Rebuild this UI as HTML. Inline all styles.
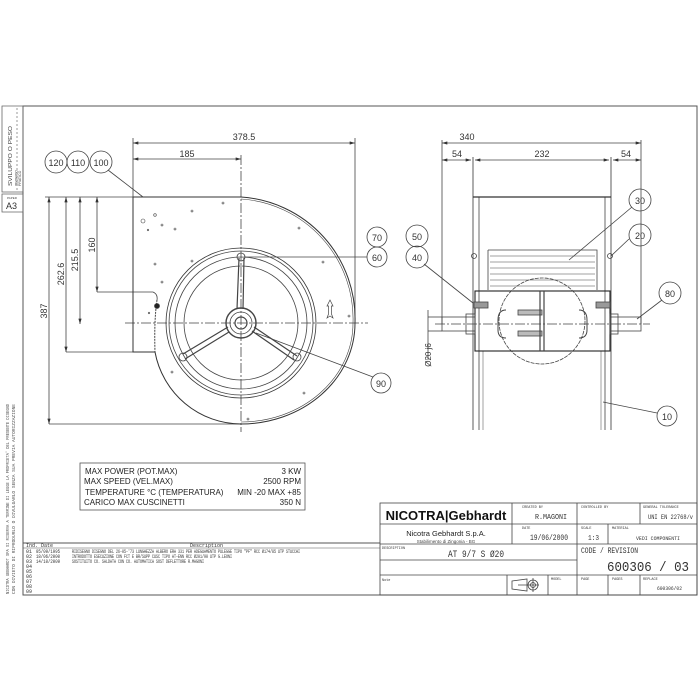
<!DOCTYPE html>
<html><head><meta charset="utf-8"><style>
html,body{margin:0;padding:0;background:#fff;}
svg{display:block;font-family:"Liberation Sans",sans-serif;}
.m{font-family:"Liberation Mono",monospace;}
</style></head><body>
<svg width="700" height="700" viewBox="0 0 700 700" xmlns="http://www.w3.org/2000/svg">
<defs>
<marker id="a" viewBox="0 0 10 6" refX="10" refY="3" markerWidth="7" markerHeight="4" orient="auto-start-reverse"><path d="M0,0L10,3L0,6z" fill="#333"/></marker>
</defs>
<rect width="700" height="700" fill="#fff"/>
<g fill="none" stroke="#555" stroke-width="1">
<path d="M23,106H697V595H23Z"/>
<path d="M2,106H23V192H2Z M2,194H23V212H2Z" stroke="#666" stroke-width="0.8"/>
<line x1="17" y1="108" x2="17" y2="190" stroke-dasharray="2,2" stroke-width="0.6"/>
<line x1="23" y1="543" x2="380" y2="543"/>
<line x1="23" y1="548" x2="380" y2="548" stroke-width="0.6"/>
</g>
<text transform="translate(12,186) rotate(-90)" font-size="5.5" fill="#444" textLength="60" lengthAdjust="spacingAndGlyphs">SVILUPPO O PESO</text>
<text transform="translate(17.5,186) rotate(-90)" font-size="3.5" fill="#444">TEORICO</text>
<text transform="translate(21,186) rotate(-90)" font-size="3.5" fill="#444">PRATICO</text>
<text x="7" y="199" font-size="3" fill="#444">PAPER</text>
<text x="6" y="209" font-size="9" fill="#333">A3</text>
<text transform="translate(9,594) rotate(-90)" font-size="4.5" fill="#555" class="m" textLength="190" lengthAdjust="spacingAndGlyphs">NICOTRA GEBHARDT SPA SI RISERVA A TERMINE DI LEGGE LA PROPRIETA' DEL PRESENTE DISEGNO</text>
<text transform="translate(15,594) rotate(-90)" font-size="4.5" fill="#555" class="m" textLength="190" lengthAdjust="spacingAndGlyphs">CON DIVIETO DI RIPRODURLO O DIVULGARLO SENZA SUA PREVIA AUTORIZZAZIONE</text>
<g font-size="5" fill="#333" class="m">
<text x="26" y="547">Ind. Date</text><text x="190" y="547">Description</text>
<text x="26" y="553">01</text><text x="36" y="553" textLength="24" lengthAdjust="spacingAndGlyphs">05/09/1995</text><text x="72" y="553" textLength="228" lengthAdjust="spacingAndGlyphs">RIDISEGNO DISEGNO DEL 26-05-'73 LUNGHEZZA ALBERO ERA 331 PER ADEGUAMENTO PULEGGE TIPO "PF" RCC Ø174/85 UTP STUCCHI</text>
<text x="26" y="558">02</text><text x="36" y="558" textLength="24" lengthAdjust="spacingAndGlyphs">18/06/2000</text><text x="72" y="558" textLength="160" lengthAdjust="spacingAndGlyphs">INTRODOTTO ESECUZIONE CON FCT E BR/SUPP CUSC TIPO AT-ENN RCC Ø201/90 UTP G.LEONI</text>
<text x="26" y="563">03</text><text x="36" y="563" textLength="24" lengthAdjust="spacingAndGlyphs">14/10/2009</text><text x="72" y="563" textLength="132" lengthAdjust="spacingAndGlyphs">SOSTITUITO CO. SALDATA CON CO. AUTOMATICA SOST DEFLETTORE R.MAGONI</text>
<text x="26" y="568">04</text><text x="26" y="573">05</text><text x="26" y="578">06</text><text x="26" y="583">07</text><text x="26" y="588">08</text><text x="26" y="593">09</text>
</g>

<!-- LEFT VIEW -->
<g fill="none" stroke="#444" stroke-width="0.8">
<line x1="133" y1="143" x2="355" y2="143" marker-start="url(#a)" marker-end="url(#a)"/>
<line x1="133" y1="159" x2="241" y2="159" marker-start="url(#a)" marker-end="url(#a)"/>
<line x1="133" y1="138" x2="133" y2="197"/>
<line x1="355" y1="138" x2="355" y2="323"/>
<line x1="241" y1="155" x2="241" y2="432" stroke-dasharray="10,2,2,2"/>
<line x1="125" y1="323" x2="368" y2="323" stroke-dasharray="10,2,2,2"/>
<line x1="45" y1="197" x2="133" y2="197"/>
<line x1="49" y1="197" x2="49" y2="424" marker-start="url(#a)" marker-end="url(#a)"/>
<line x1="49" y1="424" x2="241" y2="424"/>
<line x1="66" y1="197" x2="66" y2="352" marker-start="url(#a)" marker-end="url(#a)"/>
<line x1="66" y1="352" x2="133" y2="352"/>
<line x1="80" y1="197" x2="80" y2="324" marker-start="url(#a)" marker-end="url(#a)"/>
<line x1="97" y1="197" x2="97" y2="292" marker-start="url(#a)" marker-end="url(#a)"/>
<path d="M97,292H153q5,2 4,8"/>
<path d="M133,197H241 A122,122 0 0 1 355,323 A114,101 0 0 1 241,424 A88,88 0 0 1 155,352 H133 Z" stroke="#333" stroke-width="1"/>
<path d="M241,199 A120,120 0 0 1 353,323 A112,99 0 0 1 241,422" stroke-width="0.6"/>
<path d="M157,300 q-3,20 -2,52" stroke-width="1" stroke-dasharray="2,1"/>
<circle cx="157" cy="306" r="2.5" fill="#222"/>
<circle cx="241" cy="323" r="75" stroke="#333"/>
<circle cx="241" cy="323" r="72"/>
<circle cx="241" cy="323" r="66"/>
<circle cx="241" cy="323" r="57"/>
<circle cx="241" cy="323" r="15" stroke-width="1.4"/>
<circle cx="241" cy="323" r="11"/>
<circle cx="241" cy="323" r="6" stroke-width="1.2"/>
<path d="M239,258 L237,309 M244,258 L243,309" stroke-width="1.2"/>
<path d="M183,354 L228,327 M185,359 L229,332" stroke-width="1.2"/>
<path d="M297,356 L254,327 M294,360 L252,331" stroke-width="1.2"/>
<circle cx="241" cy="257" r="4"/><circle cx="183" cy="357" r="4"/><circle cx="297" cy="357" r="4"/>
<path d="M327,306 l3,-6 3,6 h-1.5 v8 l1.5,4 -3,-2 -3,2 1.5,-4 v-8z" stroke-width="0.7"/>
<g stroke-width="0.6">
<circle cx="143" cy="221" r="2"/><circle cx="155" cy="215" r="1.3"/><circle cx="162" cy="225" r="1"/><circle cx="175" cy="229" r="1"/>
<circle cx="192" cy="211" r="1"/><circle cx="223" cy="203" r="1"/><circle cx="299" cy="228" r="1"/><circle cx="323" cy="262" r="1"/>
<circle cx="155" cy="264" r="1"/><circle cx="162" cy="282" r="1"/><circle cx="149" cy="313" r="0.8"/><circle cx="172" cy="372" r="1"/>
<circle cx="304" cy="393" r="1"/><circle cx="349" cy="316" r="1"/><circle cx="192" cy="261" r="1"/>
<circle cx="148" cy="230" r="0.8"/><circle cx="248" cy="419" r="1"/>
</g>
<circle cx="56" cy="162" r="11"/><circle cx="78" cy="162" r="11"/><circle cx="101" cy="162" r="11"/>
<line x1="108" y1="170" x2="143" y2="197"/>
<circle cx="377" cy="237" r="10"/><circle cx="377" cy="257" r="10"/>
<line x1="367" y1="257" x2="244" y2="257"/>
<circle cx="381" cy="383" r="10"/>
<line x1="373" y1="377" x2="256" y2="333"/>
</g>
<g fill="#333" font-size="9" text-anchor="middle">
<text x="244" y="140">378.5</text>
<text x="187" y="157">185</text>
<text x="56" y="166">120</text><text x="78" y="166">110</text><text x="101" y="166">100</text>
<text x="377" y="241">70</text><text x="377" y="261">60</text><text x="381" y="387">90</text>
<text x="467" y="140">340</text><text x="542" y="157">232</text><text x="457" y="157">54</text><text x="626" y="157">54</text>
<text x="640" y="204">30</text><text x="640" y="239">20</text><text x="417" y="240">50</text><text x="417" y="261">40</text>
<text x="670" y="297">80</text><text x="667" y="420">10</text>
<text transform="translate(47,311) rotate(-90)">387</text>
<text transform="translate(64,274) rotate(-90)">262.6</text>
<text transform="translate(78,260) rotate(-90)">215.5</text>
<text transform="translate(95,245) rotate(-90)">160</text>
<text transform="translate(431,355) rotate(-90)" font-size="8">Ø20 j6</text>
</g>

<!-- RIGHT VIEW -->
<g fill="none" stroke="#444" stroke-width="0.8">
<line x1="442" y1="143" x2="641" y2="143" marker-start="url(#a)" marker-end="url(#a)"/>
<line x1="442" y1="160" x2="471" y2="160" marker-start="url(#a)" marker-end="url(#a)"/>
<line x1="475" y1="160" x2="609" y2="160" marker-start="url(#a)" marker-end="url(#a)"/>
<line x1="613" y1="160" x2="641" y2="160" marker-start="url(#a)" marker-end="url(#a)"/>
<line x1="442" y1="140" x2="442" y2="324"/>
<line x1="641" y1="140" x2="641" y2="324"/>
<line x1="473" y1="157" x2="473" y2="430" stroke="#333"/>
<line x1="611" y1="157" x2="611" y2="430" stroke="#333"/>
<line x1="479" y1="197" x2="479" y2="430"/>
<line x1="605" y1="197" x2="605" y2="430"/>
<line x1="483" y1="351" x2="483" y2="430" stroke-width="0.5"/>
<line x1="601" y1="351" x2="601" y2="430" stroke-width="0.5"/>
<line x1="473" y1="197" x2="611" y2="197" stroke="#333" stroke-width="1.2"/>
<path d="M488,250H597V290M488,250V290" />
<g stroke-width="0.5"><path d="M490,256H595M490,262H595M490,268H595M490,274H595M490,280H595M490,286H595"/></g>
<rect x="475" y="291" width="135" height="60" stroke="#222" stroke-width="1.1"/>
<circle cx="542" cy="321" r="43" stroke-dasharray="4,1"/>
<path d="M506,310 q-8,0 -8,10 v10 q0,8 8,8 M579,310 q8,0 8,10 v10 q0,8 -8,8" stroke-width="1"/>
<rect x="518" y="310" width="24" height="5" fill="#bbb"/><rect x="518" y="331" width="24" height="5" fill="#bbb"/>
<line x1="540" y1="291" x2="540" y2="351" stroke-width="1.2"/><line x1="544" y1="291" x2="544" y2="351" stroke-width="1.2"/>
<rect x="442" y="317" width="33" height="14"/><rect x="610" y="317" width="31" height="14"/>
<rect x="466" y="314" width="9" height="20"/><rect x="610" y="314" width="8" height="20"/>
<rect x="474" y="302" width="14" height="6" fill="#999"/><rect x="596" y="302" width="14" height="6" fill="#999"/>
<line x1="435" y1="324" x2="650" y2="324" stroke-dasharray="10,2,2,2"/>
<line x1="428" y1="317" x2="442" y2="317"/><line x1="428" y1="331" x2="442" y2="331"/>
<line x1="428" y1="310" x2="428" y2="360"/>
<circle cx="474" cy="256" r="2.5"/><circle cx="610" cy="256" r="2.5"/>
<circle cx="640" cy="200" r="11"/><circle cx="640" cy="235" r="11"/>
<circle cx="417" cy="236" r="11"/><circle cx="417" cy="257" r="11"/>
<circle cx="670" cy="293" r="11"/><circle cx="667" cy="416" r="10"/>
<line x1="632" y1="207" x2="569" y2="260"/>
<line x1="629" y1="239" x2="611" y2="256"/>
<line x1="424" y1="264" x2="473" y2="303"/>
<line x1="662" y1="300" x2="637" y2="319"/>
<line x1="657" y1="413" x2="603" y2="402"/>
</g>

<rect x="80" y="463" width="225" height="47" fill="none" stroke="#555" stroke-width="0.8"/>
<g font-size="8" fill="#222">
<text x="85" y="474">MAX POWER (POT.MAX)</text><text x="301" y="474" text-anchor="end">3 KW</text>
<text x="84" y="484">MAX SPEED (VEL.MAX)</text><text x="301" y="484" text-anchor="end">2500 RPM</text>
<text x="85" y="495">TEMPERATURE °C (TEMPERATURA)</text><text x="301" y="495" text-anchor="end">MIN -20 MAX +85</text>
<text x="84" y="505">CARICO MAX CUSCINETTI</text><text x="301" y="505" text-anchor="end">350 N</text>
</g>

<g fill="none" stroke="#444" stroke-width="0.8">
<rect x="380" y="503" width="317" height="92"/>
<line x1="380" y1="524" x2="697" y2="524"/>
<line x1="380" y1="544" x2="697" y2="544"/>
<line x1="380" y1="560" x2="577" y2="560"/>
<line x1="380" y1="575" x2="697" y2="575"/>
<line x1="512" y1="503" x2="512" y2="544"/>
<line x1="577" y1="503" x2="577" y2="595"/>
<line x1="640" y1="503" x2="640" y2="524"/>
<line x1="608" y1="524" x2="608" y2="544"/>
<line x1="507" y1="575" x2="507" y2="595"/><line x1="548" y1="575" x2="548" y2="595"/>
<line x1="608" y1="575" x2="608" y2="595"/><line x1="640" y1="575" x2="640" y2="595"/>
<path d="M512,581 L527,579 V591 L512,589Z M518,585 H539"/>
<circle cx="533" cy="585" r="5"/><circle cx="533" cy="585" r="2.5"/><line x1="533" y1="578" x2="533" y2="592"/>
</g>
<text x="446" y="520" font-size="13" font-weight="bold" fill="#111" text-anchor="middle">NICOTRA|Gebhardt</text>
<text x="446" y="536" font-size="7.5" fill="#222" text-anchor="middle">Nicotra Gebhardt S.p.A.</text>
<text x="446" y="543" font-size="4.5" fill="#444" text-anchor="middle">Stabilimento di Zingonia - BG</text>
<g class="m" fill="#333">
<text x="522" y="508" font-size="3.5">CREATED BY</text><text x="535" y="519" font-size="7" textLength="32" lengthAdjust="spacingAndGlyphs">R.MAGONI</text>
<text x="581" y="508" font-size="3.5">CONTROLLED BY</text>
<text x="643" y="508" font-size="3.5">GENERAL TOLERANCE</text><text x="648" y="519" font-size="6.5" textLength="45" lengthAdjust="spacingAndGlyphs">UNI EN 22768/v</text>
<text x="522" y="529" font-size="3.5">DATE</text><text x="530" y="540" font-size="8" textLength="38" lengthAdjust="spacingAndGlyphs">19/06/2000</text>
<text x="581" y="529" font-size="3.5">SCALE</text><text x="588" y="540" font-size="7" textLength="11" lengthAdjust="spacingAndGlyphs">1:3</text>
<text x="612" y="529" font-size="3.5">MATERIAL</text><text x="636" y="540" font-size="5.5" textLength="44" lengthAdjust="spacingAndGlyphs">VEDI COMPONENTI</text>
<text x="382" y="549" font-size="3.5">DESCRIPTION</text><text x="448" y="557" font-size="10" textLength="56" lengthAdjust="spacingAndGlyphs">AT 9/7 S Ø20</text>
<text x="581" y="553" font-size="8" textLength="57" lengthAdjust="spacingAndGlyphs">CODE / REVISION</text>
<text x="607" y="571" font-size="14" textLength="82" lengthAdjust="spacingAndGlyphs">600306 / 03</text>
<text x="382" y="581" font-size="3.5">Note</text>
<text x="551" y="580" font-size="3.5">MODEL</text>
<text x="581" y="580" font-size="3.5">PAGE</text><text x="612" y="580" font-size="3.5">PAGES</text>
<text x="643" y="580" font-size="3.5">REPLACE</text><text x="657" y="590" font-size="5" textLength="25" lengthAdjust="spacingAndGlyphs">600306/02</text>
</g>
</svg>
</body></html>
